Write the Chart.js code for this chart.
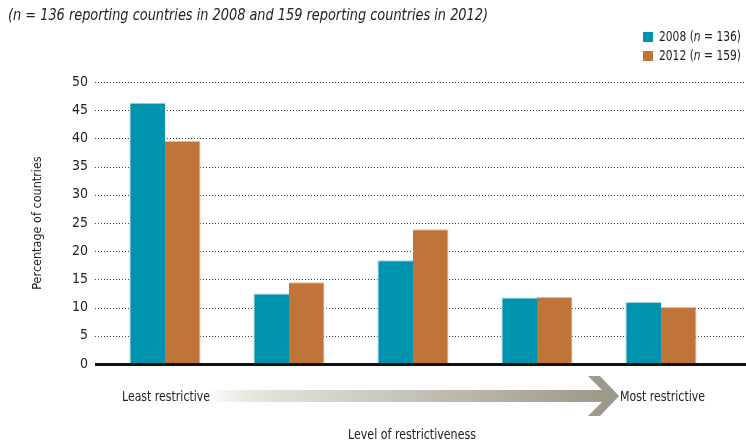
<!DOCTYPE html>
<html>
<head>
<meta charset="utf-8">
<script src="https://cdn.jsdelivr.net/npm/chart.js@4.4.1/dist/chart.umd.min.js"></script>
<style>
html,body{margin:0;padding:0;background:#fff;}
#wrap{width:746px;height:444px;position:relative;}
</style>
</head>
<body>
<div id="wrap"><canvas id="c" width="746" height="444"></canvas></div>
<script>
const categories = ["1", "2", "3", "4", "5"];
const series2008 = [46.3, 12.5, 18.4, 11.8, 11.0];
const series2012 = [39.6, 14.5, 23.9, 11.9, 10.1];
const yTicks = [0, 5, 10, 15, 20, 25, 30, 35, 40, 45, 50];
const titleText = "(n = 136 reporting countries in 2008 and 159 reporting countries in 2012)";
const legendItems = [
  {year: "2008", n: "136"},
  {year: "2012", n: "159"}
];
const yTitle = "Percentage of countries";
const xTitle = "Level of restrictiveness";
const leftLabel = "Least restrictive";
const rightLabel = "Most restrictive";

const FONT = '"Liberation Sans Narrow", "DejaVu Sans Condensed", "Liberation Sans", sans-serif';
const TEAL = '#0093ae';
const BROWN = '#bf743a';

// draw a run of text parts [{t, font}] fitted horizontally to a target width
function drawFit(ctx, parts, x, y, target, align) {
  let w = 0;
  parts.forEach(p => { ctx.font = p.font; w += ctx.measureText(p.t).width; });
  const sx = target / w;
  let start = align === 'center' ? x - target / 2 : x;
  ctx.save();
  ctx.translate(start, y);
  ctx.scale(sx, 1);
  ctx.textAlign = 'left';
  ctx.textBaseline = 'middle';
  let cx = 0;
  parts.forEach(p => { ctx.font = p.font; ctx.fillText(p.t, cx, 0); cx += ctx.measureText(p.t).width; });
  ctx.restore();
}

const decor = {
  id: 'decor',
  beforeDatasetsDraw(chart) {
    const ctx = chart.ctx, y = chart.scales.y;
    ctx.save();
    ctx.strokeStyle = '#444';
    ctx.lineWidth = 1;
    ctx.setLineDash([1, 2]);
    y.ticks.forEach(t => {
      if (t.value === 0) return;
      const py = Math.round(y.getPixelForValue(t.value)) + 0.5;
      ctx.beginPath(); ctx.moveTo(95, py); ctx.lineTo(746, py); ctx.stroke();
    });
    ctx.restore();
  },
  afterDatasetsDraw(chart) {
    const ctx = chart.ctx, y = chart.scales.y;
    ctx.save();
    const y0 = y.getPixelForValue(0);
    ctx.fillStyle = '#111';
    ctx.fillRect(95, y0 - 1, 651, 3);

    ctx.fillStyle = '#222';
    drawFit(ctx, [{t: titleText, font: 'italic 15px ' + FONT}], 8, 16, 480, 'left');

    const cols = [TEAL, BROWN];
    legendItems.forEach((it, i) => {
      const cy = 37 + i * 19;
      ctx.fillStyle = cols[i];
      ctx.fillRect(643, cy - 5, 10, 10);
      ctx.fillStyle = '#222';
      const f = '14px ' + FONT, fi = 'italic 14px ' + FONT;
      drawFit(ctx, [{t: it.year + ' (', font: f}, {t: 'n', font: fi}, {t: ' = ' + it.n + ')', font: f}], 659, cy, 82, 'left');
    });

    const g = ctx.createLinearGradient(205, 0, 600, 0);
    g.addColorStop(0, 'rgba(228,227,220,0)');
    g.addColorStop(0.12, '#e6e5de');
    g.addColorStop(1, '#9d9a8b');
    ctx.fillStyle = g;
    ctx.fillRect(205, 390, 400, 12);
    ctx.fillStyle = '#9d9a8b';
    ctx.beginPath();
    ctx.moveTo(588, 376); ctx.lineTo(600, 376); ctx.lineTo(619, 396);
    ctx.lineTo(600, 416); ctx.lineTo(588, 416); ctx.lineTo(602, 402);
    ctx.lineTo(602, 390); ctx.closePath(); ctx.fill();

    ctx.fillStyle = '#222';
    const f = '14px ' + FONT;
    drawFit(ctx, [{t: leftLabel, font: f}], 122, 397, 88, 'left');
    drawFit(ctx, [{t: rightLabel, font: f}], 620, 397, 85, 'left');
    drawFit(ctx, [{t: xTitle, font: f}], 412, 435, 128, 'center');
    ctx.restore();
  }
};

new Chart(document.getElementById('c'), {
  type: 'bar',
  data: {
    labels: categories,
    datasets: [
      {label: '2008', data: series2008, backgroundColor: TEAL, borderColor: '#9fd3de', borderWidth: {top:1,left:1,right:0,bottom:0}, borderSkipped: 'bottom'},
      {label: '2012', data: series2012, backgroundColor: BROWN, borderColor: '#e3c1a5', borderWidth: {top:1,left:0,right:1,bottom:0}, borderSkipped: 'bottom'}
    ]
  },
  options: {
    responsive: false,
    animation: false,
    layout: {padding: {top: 82, right: 23, bottom: 80, left: 0}},
    plugins: {legend: {display: false}, title: {display: false}, tooltip: {enabled: false}},
    datasets: {bar: {categoryPercentage: 0.573, barPercentage: 1.0}},
    scales: {
      x: {
        grid: {display: false}, border: {display: false},
        ticks: {display: false},
        afterFit(s) { s.height = 0; }
      },
      y: {
        min: 0, max: 50,
        afterBuildTicks(s) { s.ticks = yTicks.map(v => ({value: v})); },
        grid: {display: false, drawTicks: false}, border: {display: false},
        ticks: {color: '#222', font: {family: FONT, size: 14}, padding: 15},
        title: {display: true, text: yTitle, color: '#222', font: {family: FONT, size: 12.5}, padding: {top: 30, bottom: 0}},
        afterFit(s) { s.width = 103; }
      }
    }
  },
  plugins: [decor]
});
</script>
</body>
</html>
